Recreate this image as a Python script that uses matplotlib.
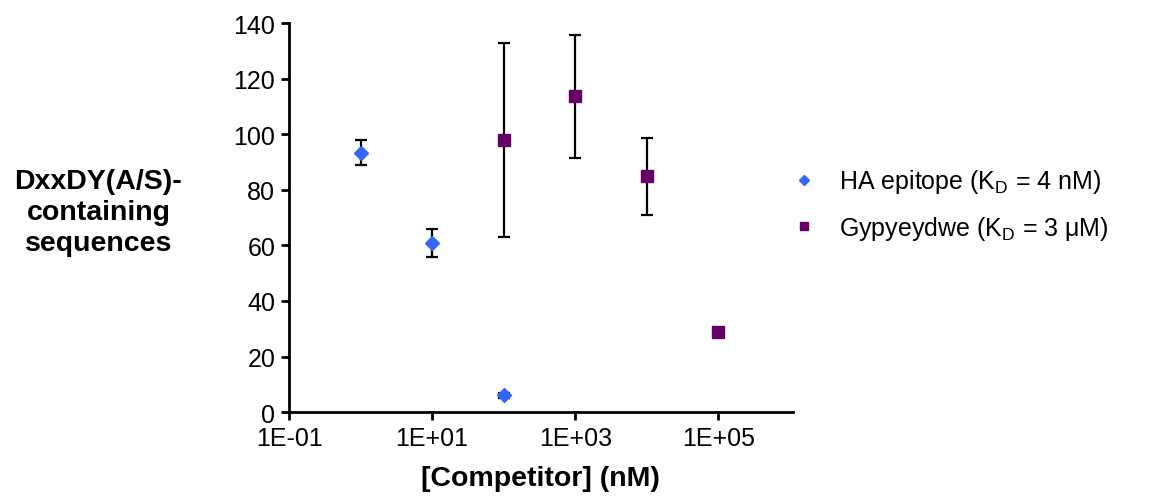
import matplotlib
matplotlib.use('Agg')
import matplotlib.pyplot as plt
from matplotlib.ticker import FixedLocator, FuncFormatter, NullLocator

plt.rcParams['font.family'] = ['Liberation Sans', 'DejaVu Sans']

# data
ha_x = [1, 10, 100]
ha_y = [93.3, 61, 6]
ha_err = [4.5, 5, 1]

gyp_x = [100, 1000, 10000, 100000]
gyp_y = [98, 113.6, 84.8, 28.7]
gyp_err = [35, 22, 14, 1.5]

xticks = [1e-1, 1e1, 1e3, 1e5]
yticks = [0, 20, 40, 60, 80, 100, 120, 140]

fig = plt.figure(figsize=(11.58, 5.02), dpi=100)
ax = fig.add_axes([0.2496, 0.177, 0.435, 0.775])

ax.errorbar(ha_x, ha_y, yerr=ha_err, fmt='D', color='#3366FF', ms=7.5,
            ecolor='black', elinewidth=1.6, capsize=4, capthick=1.6,
            label=r'HA epitope (K$_\mathregular{D}$ = 4 nM)')
ax.errorbar(gyp_x, gyp_y, yerr=gyp_err, fmt='s', color='#660066', ms=8.5,
            ecolor='black', elinewidth=1.6, capsize=4, capthick=1.6,
            label=r'Gypyeydwe (K$_\mathregular{D}$ = 3 μM)')

ax.set_xscale('log')
ax.set_xlim(1e-1, 1.1e6)
ax.set_ylim(0, 140)
ax.xaxis.set_major_locator(FixedLocator(xticks))
ax.xaxis.set_minor_locator(NullLocator())
ax.xaxis.set_major_formatter(FuncFormatter(lambda v, p: '%.0E' % v))
ax.set_yticks(yticks)

for s in ['top', 'right']:
    ax.spines[s].set_visible(False)
for s in ['left', 'bottom']:
    ax.spines[s].set_linewidth(2)
ax.tick_params(axis='both', width=2, length=6, labelsize=18, pad=4)

ax.set_xlabel('[Competitor] (nM)', fontsize=20.5, fontweight='bold', labelpad=11)
fig.text(0.085, 0.575, 'DxxDY(A/S)-\ncontaining\nsequences', fontsize=20.5,
         fontweight='bold', ha='center', va='center', linespacing=1.25)

handles, labels = ax.get_legend_handles_labels()
handles = [h[0] for h in handles]
fig.legend(handles, labels, loc='center left', bbox_to_anchor=(0.658, 0.59),
           frameon=False, fontsize=18, handletextpad=0.6, labelspacing=0.75,
           handlelength=1.6, markerscale=0.7)

fig.savefig('out.png', dpi=100)
